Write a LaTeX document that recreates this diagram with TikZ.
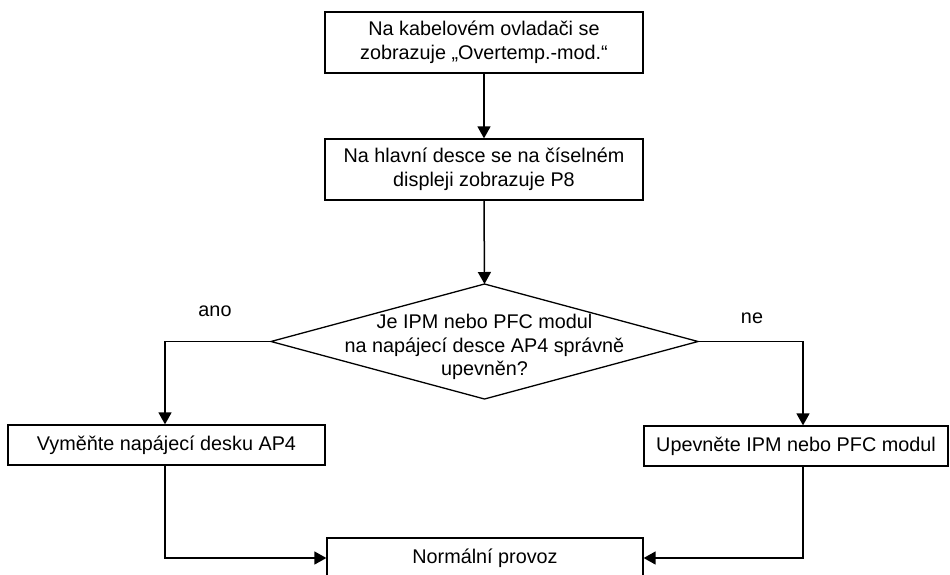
\documentclass[tikz,border=0pt]{standalone}
\usepackage{fontspec}
\setmainfont{Liberation Sans}
\usetikzlibrary{arrows.meta}
\begin{document}
\begin{tikzpicture}[x=1pt,y=-1pt,
  every node/.style={font=\fontsize{19.8}{23.5}\selectfont},
  box/.style={draw, line width=1.3pt, inner sep=0pt, align=center},
  conn/.style={line width=1.5pt, -{Triangle[length=12pt,width=13pt]}},
  line/.style={line width=1.5pt}]
\useasboundingbox (0,0) rectangle (950,574);
\node[box, minimum width=318pt, minimum height=61pt] (b1) at (484,42.5)
  {Na kabelovém ovladači se\\zobrazuje „Overtemp.-mod.“};
\node[box, minimum width=318pt, minimum height=61pt] (b2) at (484,169.5)
  {Na hlavní desce se na číselném\\displeji zobrazuje P8};
\coordinate (dT) at (484.5,284);
\coordinate (dL) at (271,341.5);
\coordinate (dR) at (698,341.5);
\coordinate (dB) at (484.5,399);
\draw[line width=1.3pt, line join=miter] (dT) -- (dR) -- (dB) -- (dL) -- cycle;
\node[align=center] (dtext) at (484.5,347)
  {Je IPM nebo PFC modul\\na napájecí desce AP4 správně\\upevněn?};
\node[box, minimum width=317pt, minimum height=40pt] (b3) at (166.5,445)
  {Vyměňte napájecí desku AP4};
\node[box, minimum width=304pt, minimum height=40pt] (b4) at (796,446)
  {Upevněte IPM nebo PFC modul};
\node[box, minimum width=316pt, minimum height=40pt] (b5) at (485,558)
  {Normální provoz};
\node (ano) at (215,311) {ano};
\node (ne) at (752,318) {ne};
\draw[conn] (b1.south) -- (b2.north);
\draw[conn] (b2.south) -- (dT);
\draw[conn] (dL) -| ([xshift=-1.5pt]b3.north);
\draw[conn] (dR) -| ([xshift=7pt]b4.north);
\draw[conn] ([xshift=-1.5pt]b3.south) |- (b5.west);
\draw[conn] ([xshift=7pt]b4.south) |- (b5.east);
\end{tikzpicture}
\end{document}
